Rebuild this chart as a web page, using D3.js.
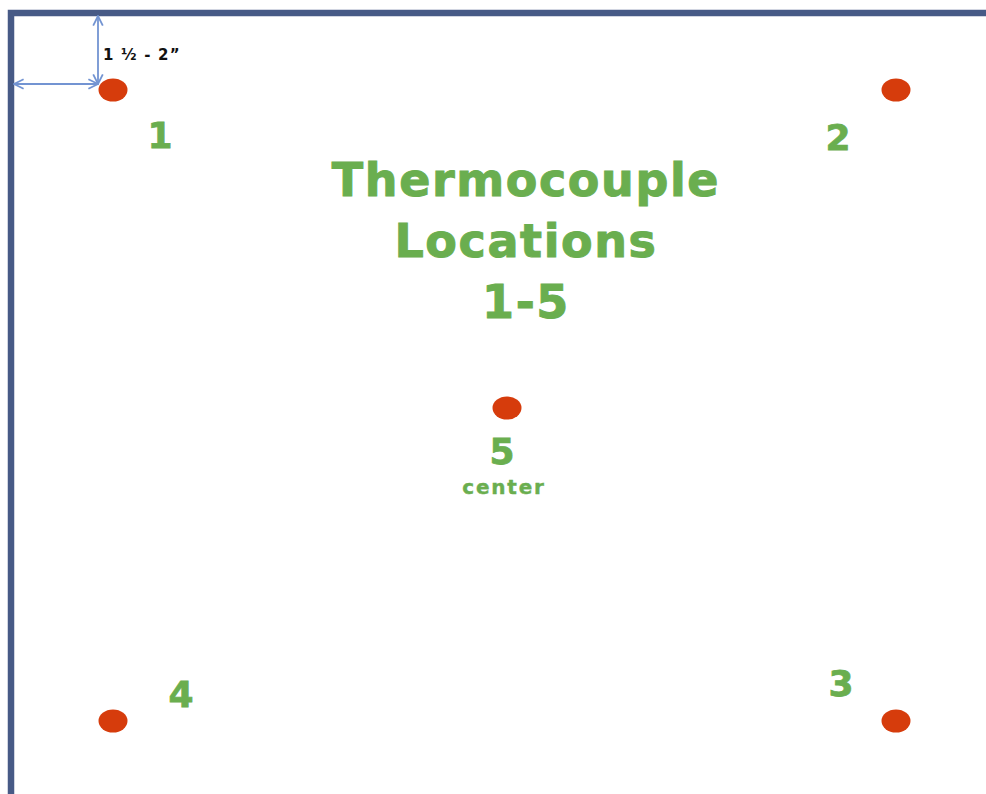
<!DOCTYPE html>
<html>
<head>
<meta charset="utf-8">
<script src="https://cdn.jsdelivr.net/npm/d3@7"></script>
<style>
  body { margin: 0; background: #fff; }
  svg { display: block; }
</style>
</head>
<body>
<div id="chart"></div>
<script>
"use strict";

// thermocouple positions, in px units of the drawing (from the picture)
var probeIds = ["1", "2", "3", "4", "5"];
var probeX = [113, 896, 896, 113, 507];
var probeY = [90, 90, 721, 721, 408];

// label position of each number
var labelX = [160, 838, 841, 181, 502];
var labelY = [148, 150, 696, 707, 464];

var titleLines = ["Thermocouple", "Locations", "1-5"];
var subLabel = "center";
var spacingText = "1 \u00BD - 2\u201D";

var width = 986, height = 794;

var x = d3.scaleLinear().domain([0, 986]).range([0, width]);
var y = d3.scaleLinear().domain([0, 794]).range([0, height]);

var green = "#6aae4f";
var red = "#d63c0c";
var frame = "#475a86";
var arrowCol = "#7394d2";

var svg = d3.select("#chart")
        .append("svg")
        .attr("width", width)
        .attr("height", height);

var defs = svg.append("defs");
defs.append("marker")
        .attr("id", "arr")
        .attr("viewBox", "0 0 10 10")
        .attr("refX", 9).attr("refY", 5)
        .attr("markerWidth", 12).attr("markerHeight", 12)
        .attr("markerUnits", "userSpaceOnUse")
        .attr("orient", "auto-start-reverse")
        .append("path")
        .attr("d", "M1,1 L9,5 L1,9")
        .attr("fill", "none")
        .attr("stroke", arrowCol)
        .attr("stroke-width", 1.5);

// frame (top + left edge, runs off the right and bottom)
svg.append("path")
        .attr("d", "M" + x(11) + "," + y(800) + " L" + x(11) + "," + y(13) + " L" + x(990) + "," + y(13))
        .attr("fill", "none")
        .attr("stroke", frame)
        .attr("stroke-width", 6.5);

// spacing arrows
svg.append("line")
        .attr("x1", x(98)).attr("y1", y(16))
        .attr("x2", x(98)).attr("y2", y(84))
        .attr("stroke", arrowCol).attr("stroke-width", 1.8)
        .attr("marker-start", "url(#arr)")
        .attr("marker-end", "url(#arr)");
svg.append("line")
        .attr("x1", x(14)).attr("y1", y(84))
        .attr("x2", x(98)).attr("y2", y(84))
        .attr("stroke", arrowCol).attr("stroke-width", 1.8)
        .attr("marker-start", "url(#arr)")
        .attr("marker-end", "url(#arr)");
svg.append("text")
        .attr("x", x(103)).attr("y", y(60))
        .attr("font-family", "DejaVu Sans, sans-serif")
        .attr("font-weight", "bold")
        .attr("font-size", 15)
        .attr("letter-spacing", 1.2)
        .attr("fill", "#111")
        .text(spacingText);

// probes
svg.selectAll("ellipse.probe")
        .data(probeIds)
        .enter()
        .append("ellipse")
        .attr("class", "probe")
        .attr("cx", function (d, i) { return x(probeX[i]); })
        .attr("cy", function (d, i) { return y(probeY[i]); })
        .attr("rx", 14.5)
        .attr("ry", 11.5)
        .attr("fill", red);

svg.selectAll("text.num")
        .data(probeIds)
        .enter()
        .append("text")
        .attr("class", "num")
        .attr("x", function (d, i) { return x(labelX[i]); })
        .attr("y", function (d, i) { return y(labelY[i]); })
        .attr("text-anchor", "middle")
        .attr("font-family", "DejaVu Sans, sans-serif")
        .attr("font-weight", "bold")
        .attr("font-size", 36)
        .attr("fill", green)
        .attr("stroke", green)
        .attr("stroke-width", 0.8)
        .text(function (d) { return d; });

svg.append("text")
        .attr("x", x(504)).attr("y", y(494))
        .attr("text-anchor", "middle")
        .attr("font-family", "DejaVu Sans, sans-serif")
        .attr("font-weight", "bold")
        .attr("font-size", 20)
        .attr("letter-spacing", 1.8)
        .attr("fill", green)
        .attr("stroke", green)
        .attr("stroke-width", 0.4)
        .text(subLabel);

// title
var titleY = [196, 257, 318];
svg.selectAll("text.title")
        .data(titleLines)
        .enter()
        .append("text")
        .attr("class", "title")
        .attr("x", x(526))
        .attr("y", function (d, i) { return y(titleY[i]); })
        .attr("text-anchor", "middle")
        .attr("font-family", "DejaVu Sans, sans-serif")
        .attr("font-weight", "bold")
        .attr("font-size", 46)
        .attr("letter-spacing", 1.6)
        .attr("fill", green)
        .attr("stroke", green)
        .attr("stroke-width", 1)
        .text(function (d) { return d; });
</script>
</body>
</html>
